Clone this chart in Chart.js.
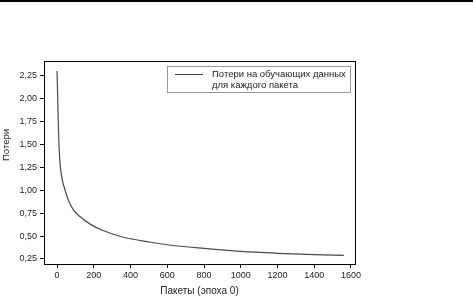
<!DOCTYPE html>
<html><head><meta charset="utf-8">
<script src="https://cdn.jsdelivr.net/npm/chart.js@4/dist/chart.umd.min.js"></script>
<style>
html,body{margin:0;padding:0;background:#fff;}
#wrap{position:relative;width:473px;height:297px;}
#topline{position:absolute;left:0;top:0;width:473px;height:2px;background:#000;}
canvas{position:absolute;left:0;top:0;}
</style></head><body>
<div id="wrap"><canvas id="c" width="473" height="297"></canvas><div id="topline"></div></div>
<script>
const batches = [0, 3, 6, 9, 12, 16, 20, 30, 44, 62, 89, 126, 180, 250, 362, 500, 600, 800, 1000, 1200, 1400, 1561];
const losses  = [2.30, 2.05, 1.80, 1.58, 1.44, 1.30, 1.22, 1.10, 1.00, 0.89, 0.785, 0.71, 0.63, 0.56, 0.487, 0.435, 0.405, 0.365, 0.332, 0.312, 0.298, 0.29];
const xTicks = [0, 200, 400, 600, 800, 1000, 1200, 1400, 1600];
const yTicks = [0.25, 0.5, 0.75, 1.0, 1.25, 1.5, 1.75, 2.0, 2.25];
const legendLines = ['Потери на обучающих данных', 'для каждого пакета'];
const xTitle = 'Пакеты (эпоха 0)';
const yTitle = 'Потери';

const FONT = 'Liberation Sans, Arial, sans-serif';
Chart.defaults.font.family = FONT;
Chart.defaults.font.size = 9;
Chart.defaults.color = '#222';

const frame = {
  id: 'frame',
  afterDraw(chart) {
    const {ctx, chartArea: a} = chart;
    ctx.save();
    ctx.strokeStyle = '#000';
    ctx.lineWidth = 1;
    ctx.strokeRect(a.left + 0.5, a.top + 0.5, a.right - a.left, a.bottom - a.top);
    // y title
    ctx.save();
    ctx.translate(6.5, 145);
    ctx.rotate(-Math.PI / 2);
    ctx.fillStyle = '#222';
    ctx.font = '9.5px ' + FONT;
    ctx.textAlign = 'center';
    ctx.textBaseline = 'middle';
    ctx.fillText(yTitle, 0, 0);
    ctx.restore();
    // legend box
    const bx = 167.5, by = 66.5, bw = 183, bh = 26;
    ctx.strokeStyle = '#999';
    ctx.strokeRect(bx, by, bw, bh);
    ctx.strokeStyle = '#444';
    ctx.lineWidth = 1;
    ctx.beginPath();
    ctx.moveTo(175, 74.5);
    ctx.lineTo(203, 74.5);
    ctx.stroke();
    ctx.fillStyle = '#222';
    ctx.font = '9.5px ' + FONT;
    ctx.textBaseline = 'middle';
    ctx.textAlign = 'left';
    ctx.fillText(legendLines[0], 212, 74.5);
    ctx.fillText(legendLines[1], 212, 85);
    ctx.restore();
  }
};

new Chart(document.getElementById('c'), {
  type: 'line',
  data: {
    datasets: [{
      data: batches.map((b, i) => ({x: b, y: losses[i]})),
      borderColor: '#4a4a4a',
      borderWidth: 1.2,
      pointRadius: 0,
      cubicInterpolationMode: 'monotone',
      fill: false
    }]
  },
  options: {
    responsive: false,
    animation: false,
    layout: {padding: {top: 61, right: 118, left: 0, bottom: 0}},
    plugins: {legend: {display: false}, tooltip: {enabled: false}},
    scales: {
      x: {
        type: 'linear',
        min: -71, max: 1622,
        afterBuildTicks: s => { s.ticks = xTicks.map(v => ({value: v})); },
        afterFit: s => { s.height = 33; },
        ticks: {color: '#222', padding: 2, maxRotation: 0, autoSkip: false, font: {size: 9},
          callback: v => String(v)},
        grid: {drawOnChartArea: false, drawTicks: true, tickLength: 4, color: '#000'},
        border: {display: true, color: '#000', width: 1},
        title: {display: true, text: xTitle, color: '#222', padding: {top: 2, bottom: 0}, font: {size: 10}}
      },
      y: {
        type: 'linear',
        min: 0.195, max: 2.41,
        afterBuildTicks: s => { s.ticks = yTicks.map(v => ({value: v})); },
        afterFit: s => { s.width = 44; },
        ticks: {color: '#222', padding: 3, autoSkip: false, font: {size: 9},
          callback: v => v.toFixed(2).replace('.', ',')},
        grid: {drawOnChartArea: false, drawTicks: true, tickLength: 4, color: '#000'},
        border: {display: true, color: '#000', width: 1},
        title: {display: false}
      }
    }
  },
  plugins: [frame]
});
</script></body></html>
